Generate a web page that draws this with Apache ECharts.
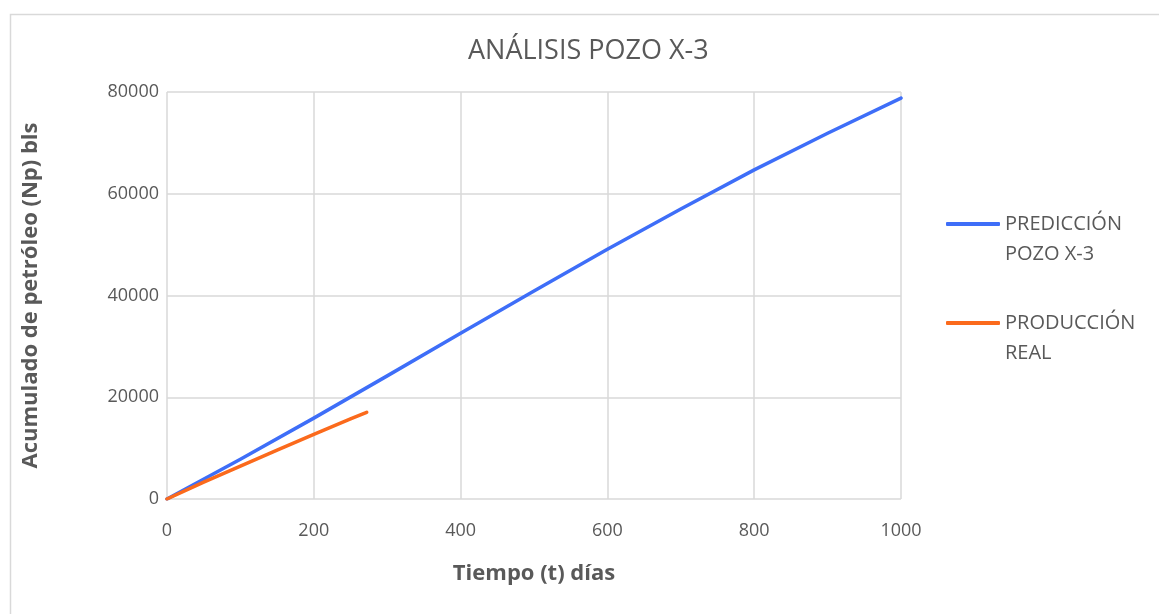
<!DOCTYPE html>
<html>
<head>
<meta charset="utf-8">
<script src="https://cdn.jsdelivr.net/npm/echarts@6/dist/echarts.min.js"></script>
<style>
  html, body { margin: 0; padding: 0; background: #ffffff; }
  #chart { width: 1159px; height: 614px; }
</style>
</head>
<body>
<div id="chart"></div>
<script>
// Cumulative oil production forecast vs. actual, well X-3
const predDays = [0, 100, 200, 300, 400, 500, 600, 700, 800, 900, 1000];
const predNp   = [0, 7800, 15900, 24200, 32600, 40900, 49100, 57000, 64700, 71900, 78800];

const realDays = [0, 50, 100, 150, 200, 250, 272];
const realNp   = [0, 3300, 6450, 9600, 12700, 15750, 17050];

const xTicks = { min: 0, max: 1000, step: 200 };
const yTicks = { min: 0, max: 80000, step: 20000 };

const titleText = 'ANÁLISIS POZO X-3';
const xName = 'Tiempo (t) días';
const yName = 'Acumulado de petróleo (Np) bls';
const predName = 'PREDICCIÓN\nPOZO X-3';
const realName = 'PRODUCCIÓN\nREAL';

const pairs = (xs, ys) => xs.map((x, i) => [x, ys[i]]);

const font = '"Open Sans", "Noto Sans", sans-serif';
const grey = '#595959';
const gridGrey = '#d9d9d9';
const blue = '#3e6ef8';
const orange = '#fb6a1c';

const chart = echarts.init(document.getElementById('chart'), null, { renderer: 'canvas' });
chart.setOption({
  backgroundColor: '#ffffff',
  animation: false,
  textStyle: { fontFamily: font },
  graphic: [{
    type: 'rect',
    left: 8, top: 12,
    shape: { width: 1200, height: 700 },
    style: { fill: 'none', stroke: gridGrey, lineWidth: 1.5 },
    z: -1
  }],
  title: {
    text: titleText,
    left: 463,
    top: 33,
    textStyle: { fontFamily: font, fontSize: 27, fontWeight: 'normal', color: grey }
  },
  grid: { left: 167, right: 258, top: 92, bottom: 115, containLabel: false },
  legend: {
    orient: 'vertical',
    left: 941,
    top: 174,
    itemWidth: 54,
    itemHeight: 4,
    itemGap: 9,
    icon: 'roundRect',
    data: [predName, realName],
    // a blank first line keeps the label's first line level with the swatch
    formatter: (name) => ' \n' + name,
    textStyle: { fontFamily: font, fontSize: 20, color: grey, lineHeight: 30 }
  },
  xAxis: {
    type: 'value',
    min: xTicks.min, max: xTicks.max, interval: xTicks.step,
    name: xName,
    nameLocation: 'middle',
    nameGap: 64,
    nameTextStyle: { fontFamily: font, fontSize: 22, fontWeight: 'bold', color: grey },
    axisLine: { show: false },
    axisTick: { show: false },
    axisLabel: { fontFamily: font, fontSize: 18, color: grey, margin: 23, formatter: (v) => String(v) },
    splitLine: { show: true, lineStyle: { color: gridGrey, width: 1.5 } }
  },
  yAxis: {
    type: 'value',
    min: yTicks.min, max: yTicks.max, interval: yTicks.step,
    name: yName,
    nameLocation: 'middle',
    nameGap: 125,
    nameTextStyle: { fontFamily: font, fontSize: 22, fontWeight: 'bold', color: grey },
    axisLine: { show: false },
    axisTick: { show: false },
    axisLabel: { fontFamily: font, fontSize: 18, color: grey, margin: 8, formatter: (v) => String(v) },
    splitLine: { show: true, lineStyle: { color: gridGrey, width: 1.5 } }
  },
  series: [
    {
      name: predName,
      type: 'line',
      data: pairs(predDays, predNp),
      symbol: 'none',
      lineStyle: { color: blue, width: 3.5, cap: 'round', join: 'round' },
      itemStyle: { color: blue }
    },
    {
      name: realName,
      type: 'line',
      data: pairs(realDays, realNp),
      symbol: 'none',
      lineStyle: { color: orange, width: 3.5, cap: 'round', join: 'round' },
      itemStyle: { color: orange }
    }
  ]
});
</script>
</body>
</html>
